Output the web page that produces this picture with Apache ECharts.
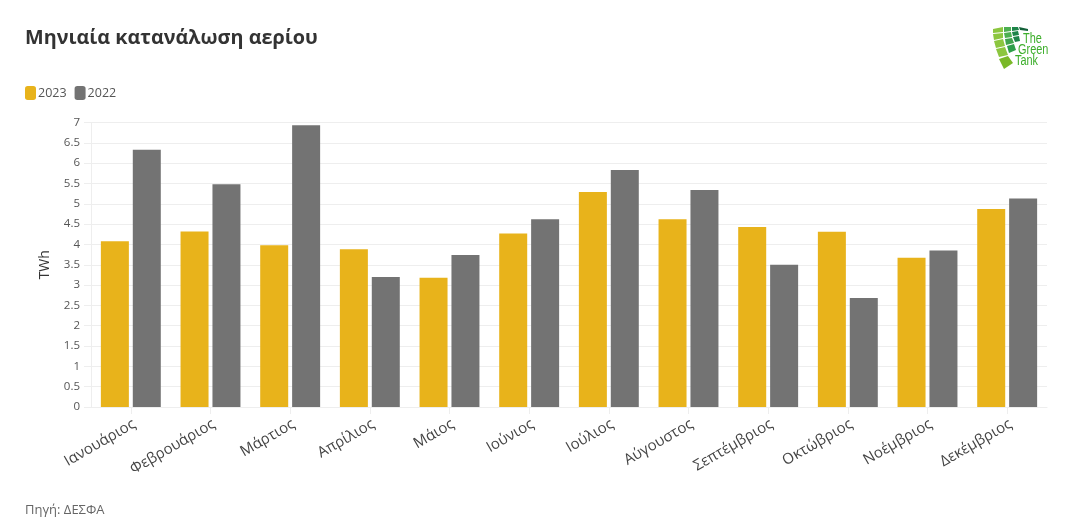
<!DOCTYPE html>
<html><head><meta charset="utf-8">
<style>html,body{margin:0;padding:0;background:#fff}#c{width:1079px;height:530px}</style>
<script src="https://cdn.jsdelivr.net/npm/echarts@6/dist/echarts.min.js"></script>
</head><body><div id="c"></div>
<script>
const months = ['Ιανουάριος','Φεβρουάριος','Μάρτιος','Απρίλιος','Μάιος','Ιούνιος','Ιούλιος','Αύγουστος','Σεπτέμβριος','Οκτώβριος','Νοέμβριος','Δεκέμβριος'];
const values2023 = [4.08,4.32,3.98,3.88,3.18,4.27,5.29,4.62,4.43,4.31,3.67,4.87];
const values2022 = [6.33,5.48,6.93,3.20,3.74,4.62,5.83,5.34,3.50,2.68,3.85,5.13];
const yTicks = 0.5;
const FONT = '"Open Sans", sans-serif';
const LOGO_FONT = '14px "Liberation Sans", sans-serif';
const tile = (pts, fill) => ({type:'polygon', shape:{points:pts}, style:{fill}});
const logoText = (text, x, y) => ({type:'text', x, y, scaleX:0.78, style:{text, font:LOGO_FONT, fill:'#3DAE2B'}});
const chart = echarts.init(document.getElementById('c'), null, {renderer:'canvas'});
chart.setOption({
  animation:false,
  backgroundColor:'#fff',
  textStyle:{fontFamily:FONT},
  title:[
    {text:'Μηνιαία κατανάλωση αερίου', left:20, top:23, textStyle:{fontFamily:FONT, fontSize:19.8, fontWeight:700, color:'#333'}},
    {text:'Πηγή: ΔΕΣΦΑ', left:20, top:499, textStyle:{fontFamily:FONT, fontSize:13, fontWeight:400, color:'#666'}}
  ],
  legend:{left:20, top:81, itemWidth:11, itemHeight:14, itemGap:8, icon:'roundRect',
    textStyle:{fontFamily:FONT, fontSize:12.5, color:'#555', padding:[0,0,0,-3]},
    data:['2023','2022']},
  grid:{left:91, right:32, top:122.5, bottom:123, containLabel:false},
  xAxis:{type:'category', data:months,
    axisLine:{lineStyle:{color:'#eee',width:1}},
    axisTick:{show:true, alignWithLabel:true, length:7, lineStyle:{color:'#eee'}},
    axisLabel:{rotate:30, interval:0, fontSize:15, color:'#444', margin:18, padding:[0,-4,0,0], fontFamily:FONT},
    splitLine:{show:false}},
  yAxis:{type:'value', min:0, max:7, interval:yTicks,
    name:'TWh', nameLocation:'middle', nameGap:39, nameRotate:90,
    nameTextStyle:{fontSize:14, color:'#333', fontFamily:FONT},
    axisLine:{show:true, lineStyle:{color:'#eee'}},
    axisTick:{show:true, length:7, lineStyle:{color:'#eee'}},
    axisLabel:{fontSize:11.5, color:'#555', margin:11, fontFamily:FONT},
    splitLine:{lineStyle:{color:'#eee',width:1}}},
  series:[
    {name:'2023', type:'bar', data:values2023, barWidth:28, barGap:'14%', itemStyle:{color:'#E8B31B'}},
    {name:'2022', type:'bar', data:values2022, barWidth:28, barGap:'14%', itemStyle:{color:'#737373'}}
  ],
  graphic:[
    tile([[993,29],[1003,27],[1003,32],[993,33]],'#8CC63F'),
    tile([[993,34],[1003,33],[1003,38],[994,40]],'#8CC63F'),
    tile([[994,41],[1003,39],[1005,46],[996,48]],'#8CC63F'),
    tile([[996,49],[1005,47],[1008,55],[999,57]],'#8CC63F'),
    tile([[999,59],[1008,56],[1013,63],[1004,69]],'#7AB828'),
    tile([[1004,27],[1011,27],[1011,31],[1004,32]],'#4CAF50'),
    tile([[1004,33],[1011,32],[1012,37],[1005,38]],'#4CAF50'),
    tile([[1005,39],[1012,38],[1014,43],[1006,45]],'#3FA34D'),
    tile([[1007,46],[1014,44],[1016,50],[1009,53]],'#2E9E4A'),
    tile([[1012,27],[1018,27],[1019,30],[1012,31]],'#1E8449'),
    tile([[1012,32],[1018,31],[1019,35],[1013,36]],'#1E8449'),
    tile([[1013,37],[1019,36],[1020,41],[1015,42]],'#1E8449'),
    tile([[1019,27],[1028,29],[1028,31],[1020,30]],'#14613A'),
    logoText('The', 1023, 32),
    logoText('Green', 1018, 43),
    logoText('Tank', 1015, 54)
  ]
});
</script></body></html>
